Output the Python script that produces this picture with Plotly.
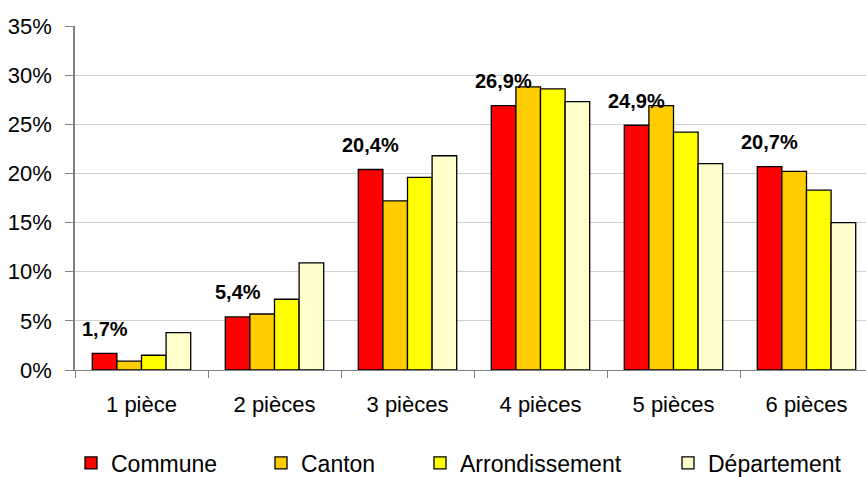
import plotly.graph_objects as go

# Répartition des résidences principales selon le nombre de pièces
categories = ["1 pièce", "2 pièces", "3 pièces", "4 pièces", "5 pièces", "6 pièces"]
commune = [1.7, 5.4, 20.4, 26.9, 24.9, 20.7]
canton = [0.9, 5.7, 17.2, 28.8, 26.9, 20.2]
arrondissement = [1.5, 7.2, 19.6, 28.6, 24.2, 18.3]
departement = [3.8, 10.9, 21.8, 27.3, 21.0, 15.0]

series_names = ["Commune", "Canton", "Arrondissement", "Département"]
series_values = [commune, canton, arrondissement, departement]
series_colors = ["#FF0000", "#FFCC00", "#FFFF00", "#FFFFCC"]
y_ticks = [0, 5, 10, 15, 20, 25, 30, 35]

W, H = 866, 477
FONT = "Liberation Sans, Arial, sans-serif"
legend_left = [71, 261, 420, 668]  # left edge of each legend entry (px)
legend_mid = 463                   # vertical centre of the legend row (px)

fig = go.Figure()
for i, (name, vals, col) in enumerate(zip(series_names, series_values, series_colors)):
    leg = "legend" if i == 0 else f"legend{i + 1}"
    fig.add_trace(go.Bar(
        x=categories, y=vals, name=name,
        marker=dict(color=col, line=dict(color="#000000", width=1.3)),
        legend=leg,
    ))

# Bold value labels above the "Commune" bars
for cat, v in zip(categories, commune):
    fig.add_annotation(
        x=cat, y=v, text=f"<b>{v:.1f}".replace(".", ",") + "%</b>",
        showarrow=False, xshift=-37, yshift=24.5, yanchor="middle",
        font=dict(family=FONT, size=20, color="#000000"),
    )

plot_w = W - 75
cat_px = 133.0

layout_legends = {}
for i, lx in enumerate(legend_left):
    key = "legend" if i == 0 else f"legend{i + 1}"
    layout_legends[key] = dict(
        xref="container", yref="container",
        x=lx / W, y=1 - legend_mid / H, xanchor="left", yanchor="middle",
        orientation="h", bgcolor="rgba(0,0,0,0)",
        font=dict(family=FONT, size=23, color="#000000"),
        itemwidth=30,
    )

fig.update_layout(
    width=W, height=H,
    margin=dict(l=75, r=0, t=26, b=107, autoexpand=False),
    paper_bgcolor="white", plot_bgcolor="white",
    barmode="group", bargap=0.26, bargroupgap=0,
    showlegend=True,
    font=dict(family=FONT, color="#000000"),
    **layout_legends,
)

fig.update_xaxes(
    range=[-0.5, -0.5 + plot_w / cat_px],
    tickson="boundaries", ticks="outside", ticklen=7, tickcolor="#808080",
    showline=True, linecolor="#808080", linewidth=1,
    tickfont=dict(family=FONT, size=22, color="#000000"),
    ticklabelstandoff=15,
    showgrid=False, zeroline=False, fixedrange=True,
)
fig.update_yaxes(
    range=[0, 35], tickvals=y_ticks, ticktext=[f"{t}%" for t in y_ticks],
    ticks="outside", ticklen=8, tickcolor="#808080",
    showline=True, linecolor="#808080", linewidth=1.5,
    showgrid=True, gridcolor="#D0D0D0", gridwidth=1,
    tickfont=dict(family=FONT, size=22, color="#000000"),
    ticklabelstandoff=9,
    zeroline=False, fixedrange=True,
)

fig.write_html("out.html", config={"displayModeBar": False})
